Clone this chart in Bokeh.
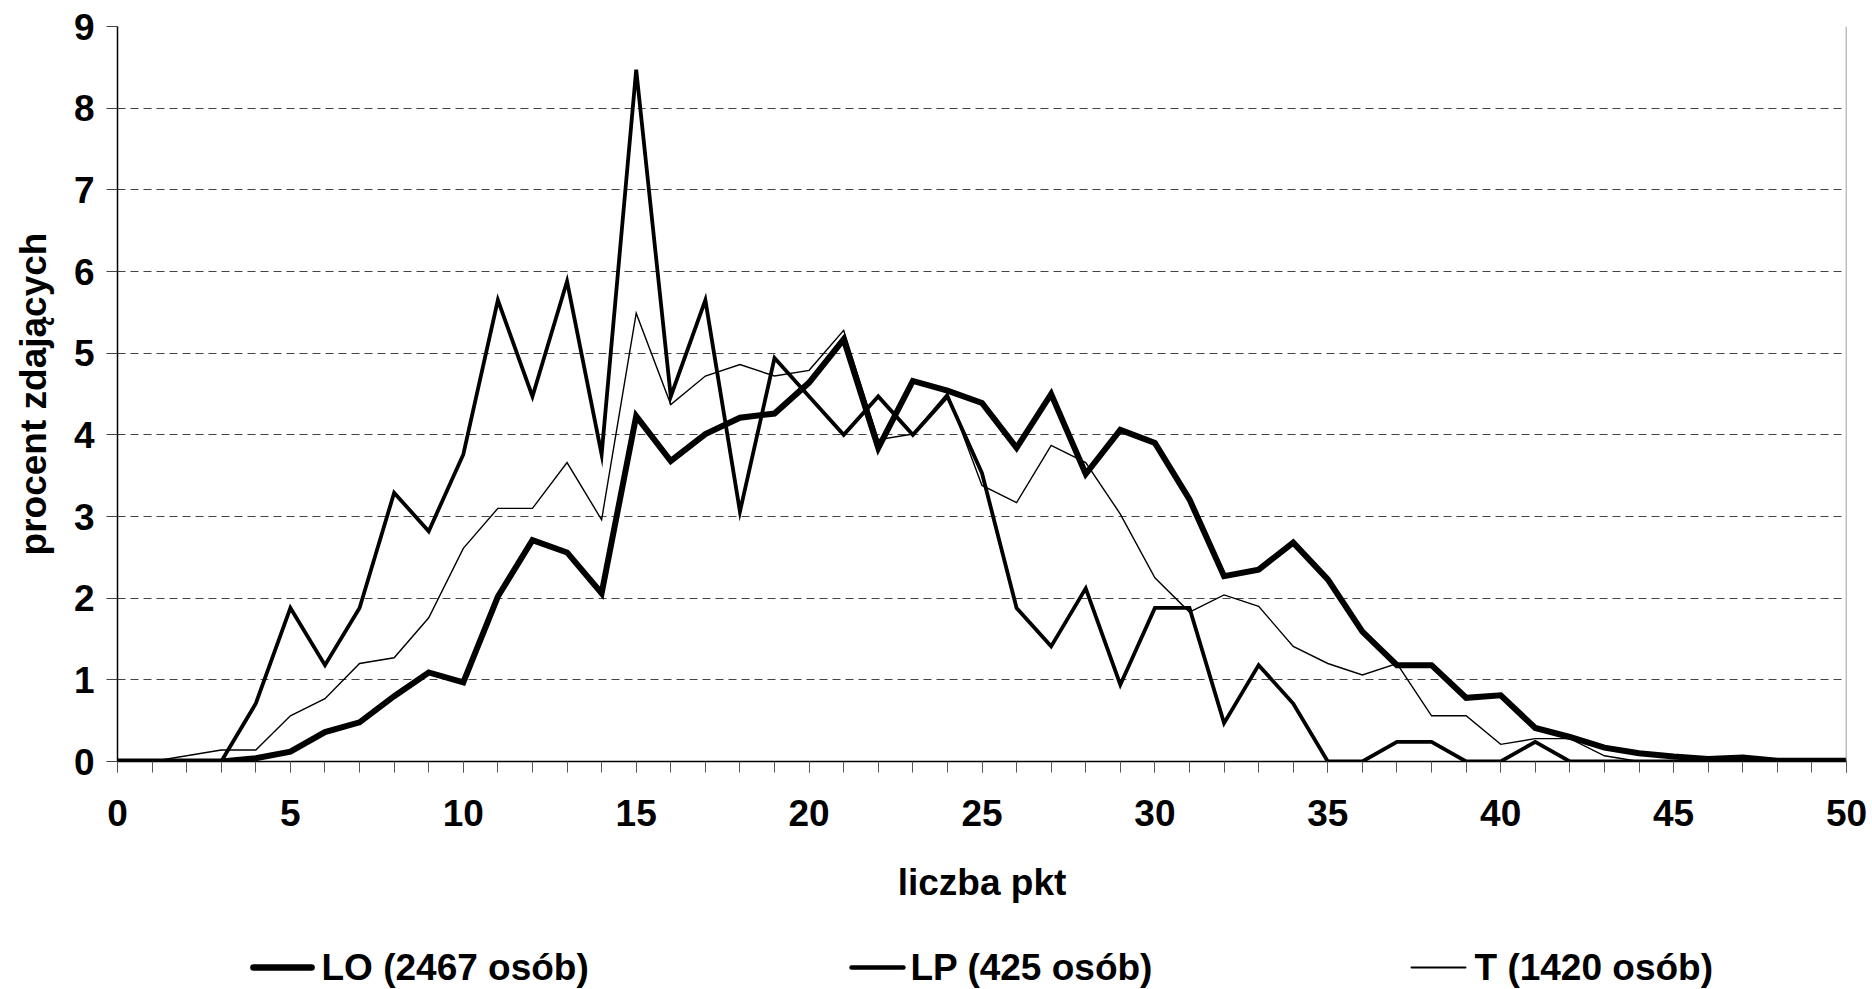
from bokeh.plotting import figure
from bokeh.layouts import column
from bokeh.models import Range1d, SingleIntervalTicker, FixedTicker, Span
from bokeh.core.properties import value
from bokeh.embed import file_html
from bokeh.resources import INLINE

# ---- data -------------------------------------------------------------
points = list(range(0, 51))

lo_values = [0, 0, 0, 0, 0.04, 0.12, 0.36, 0.48, 0.80, 1.09,
             0.97, 2.02, 2.71, 2.56, 2.06, 4.23, 3.68, 4.01, 4.21, 4.26,
             4.64, 5.17, 3.84, 4.66, 4.54, 4.39, 3.84, 4.50, 3.52, 4.06,
             3.90, 3.21, 2.27, 2.35, 2.68, 2.23, 1.59, 1.18, 1.18, 0.78,
             0.81, 0.41, 0.30, 0.17, 0.10, 0.06, 0.03, 0.05, 0.01, 0.01,
             0.01]

lp_values = [0, 0, 0, 0, 0.71, 1.88, 1.18, 1.88, 3.29, 2.82,
             3.76, 5.65, 4.47, 5.88, 3.76, 8.47, 4.47, 5.65, 3.06, 4.94,
             4.47, 4.00, 4.47, 4.00, 4.47, 3.53, 1.88, 1.41, 2.12, 0.94,
             1.88, 1.88, 0.47, 1.18, 0.71, 0, 0, 0.24, 0.24, 0,
             0, 0.24, 0, 0, 0, 0, 0, 0, 0, 0,
             0]

t_values = [0, 0, 0.07, 0.14, 0.14, 0.56, 0.77, 1.20, 1.27, 1.76,
            2.61, 3.10, 3.10, 3.66, 2.96, 5.49, 4.37, 4.72, 4.86, 4.72,
            4.79, 5.28, 3.94, 4.01, 4.51, 3.38, 3.17, 3.87, 3.66, 3.03,
            2.25, 1.83, 2.04, 1.90, 1.41, 1.20, 1.06, 1.20, 0.56, 0.56,
            0.21, 0.28, 0.28, 0.07, 0, 0, 0, 0, 0, 0,
            0]

series_labels = ["LO (2467 osób)", "LP (425 osób)", "T (1420 osób)"]
series_widths = [6.0, 3.8, 1.4]
x_axis_title = "liczba pkt"
y_axis_title = "procent zdających"
y_tick_values = [0, 1, 2, 3, 4, 5, 6, 7, 8, 9]
grid_values = [1, 2, 3, 4, 5, 6, 7, 8, 9]

FONT = "Liberation Sans"
FSIZE = "37px"
W = 1872
FRAME_L, FRAME_R = 117, 1846

# ---- main figure ------------------------------------------------------
p = figure(width=W, height=945, output_backend="svg", toolbar_location=None,
           x_range=Range1d(0, 50), y_range=Range1d(0, 9),
           min_border_left=FRAME_L, min_border_right=W - FRAME_R,
           min_border_top=26, min_border_bottom=184,
           background_fill_color="white",
           border_fill_color="white", outline_line_color=None)

xa = p.xaxis[0]
xa.ticker = SingleIntervalTicker(interval=5, num_minor_ticks=5)
xa.axis_line_color = "black"
xa.axis_line_width = 1.5
xa.major_tick_in = 0
xa.major_tick_out = 11
xa.minor_tick_in = 0
xa.minor_tick_out = 11
xa.major_tick_line_color = "#555555"
xa.minor_tick_line_color = "#555555"
xa.major_label_text_font = FONT
xa.major_label_text_font_style = "bold"
xa.major_label_text_font_size = FSIZE
xa.major_label_text_color = "black"
xa.major_label_standoff = 27
xa.axis_label = x_axis_title
xa.axis_label_text_font = FONT
xa.axis_label_text_font_style = "bold"
xa.axis_label_text_font_size = FSIZE
xa.axis_label_text_color = "black"
xa.axis_label_standoff = 33

ya = p.yaxis[0]
ya.ticker = FixedTicker(ticks=y_tick_values)
ya.axis_line_color = "black"
ya.axis_line_width = 1.5
ya.major_tick_in = 0
ya.major_tick_out = 11
ya.minor_tick_out = 0
ya.major_tick_line_color = "#444444"
ya.major_label_text_font = FONT
ya.major_label_text_font_style = "bold"
ya.major_label_text_font_size = FSIZE
ya.major_label_text_color = "black"
ya.major_label_standoff = 12
ya.axis_label = y_axis_title
ya.axis_label_text_font = FONT
ya.axis_label_text_font_style = "bold"
ya.axis_label_text_font_size = FSIZE
ya.axis_label_text_color = "black"
ya.axis_label_standoff = 17

p.xgrid.grid_line_color = None
p.ygrid.ticker = FixedTicker(ticks=grid_values)
p.ygrid.grid_line_color = "#444444"
p.ygrid.grid_line_width = 1
p.ygrid.grid_line_dash = "8 5"

p.add_layout(Span(location=50, dimension="height", line_color="#808080",
                  line_width=1.5))

p.line(points, lo_values, line_color="black",
       line_width=series_widths[0], line_join="miter")
p.line(points, lp_values, line_color="black",
       line_width=series_widths[1], line_join="miter")
p.line(points, t_values, line_color="black",
       line_width=series_widths[2], line_join="miter")

# ---- legend strip (x in page pixels, frame aligned with main frame) ----
LG_H = 44
lg = figure(width=W, height=LG_H, output_backend="svg", toolbar_location=None,
            x_range=Range1d(FRAME_L, FRAME_R), y_range=Range1d(0, LG_H),
            min_border_left=FRAME_L, min_border_right=W - FRAME_R,
            min_border_top=0, min_border_bottom=0, outline_line_color=None,
            background_fill_color="white", border_fill_color="white")
lg.xaxis.visible = False
lg.yaxis.visible = False
lg.xgrid.visible = False
lg.ygrid.visible = False

key_starts = [253, 851, 1411]
key_len = [58, 52, 54]
text_starts = [321, 910, 1474]
mid_y = 22
for i, lbl in enumerate(series_labels):
    lg.line([key_starts[i], key_starts[i] + key_len[i]], [mid_y, mid_y],
            line_color="black", line_width=series_widths[i] + 0.6,
            line_cap="round")
lg.text(x=text_starts, y=[mid_y] * 3, text=series_labels,
        text_font=value(FONT), text_font_style="bold",
        text_font_size=FSIZE, text_color="black",
        text_align="left", text_baseline="middle")

layout = column(p, lg, spacing=0)
open("out.html", "w").write(file_html(layout, INLINE))
